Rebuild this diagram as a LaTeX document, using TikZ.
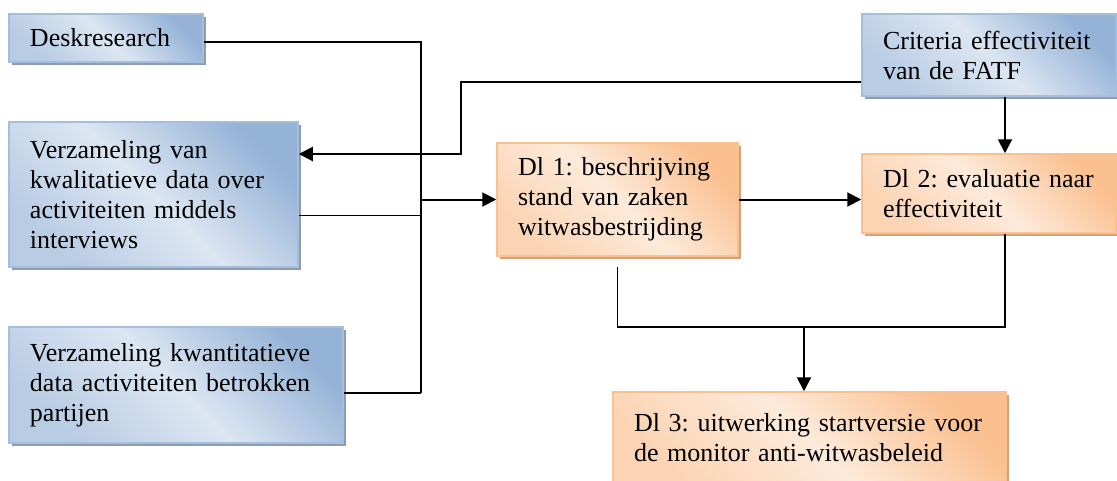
\documentclass[tikz,border=0pt]{standalone}
\usepackage{fontspec}
\setmainfont{Liberation Serif}
\usetikzlibrary{arrows.meta,shadows}
\definecolor{blauwdonker}{HTML}{95B3D7}
\definecolor{blauwmidden}{HTML}{B8CCE4}
\definecolor{blauwlicht}{HTML}{DCE6F2}
\definecolor{blauwrand}{HTML}{A6BEDE}
\definecolor{blauwschaduw}{HTML}{8E9CB0}
\definecolor{oranjedonker}{HTML}{FAC090}
\definecolor{oranjemidden}{HTML}{FBD4B4}
\definecolor{oranjelicht}{HTML}{FDEADA}
\definecolor{oranjerand}{HTML}{F9C190}
\definecolor{oranjeschaduw}{HTML}{D4A276}
\tikzset{font={\fontsize{26pt}{30pt}\selectfont\frenchspacing}}
\tikzset{
  blok/.style={draw, line width=1.5pt, align=left, inner xsep=21pt, inner ysep=2pt},
  blauw/.style={blok, draw=blauwrand, top color=blauwdonker, bottom color=blauwmidden,
    middle color=blauwlicht, shading angle=-45,
    general shadow={fill=blauwschaduw, shadow xshift=3pt, shadow yshift=-3pt}},
  oranje/.style={blok, draw=oranjerand, top color=oranjedonker, bottom color=oranjemidden,
    middle color=oranjelicht, shading angle=-45,
    general shadow={fill=oranjeschaduw, shadow xshift=3pt, shadow yshift=-3pt}},
  lijn/.style={line width=1.3pt},
  pijl/.style={line width=2pt, -{Triangle[length=14pt,width=14pt]}}
}

\begin{document}
\begin{tikzpicture}[x=1pt, y=-1pt]
      \useasboundingbox (0,0) rectangle (1117,480);
      %bronnen
      \node[blauw, text width=152pt, minimum height=48pt] (desk) at (106,38) {Deskresearch};
      \node[blauw, text width=247pt, minimum height=145pt] (kwal) at (153.5,194.5)
        {Verzameling van\\ kwalitatieve data over\\ activiteiten middels\\ interviews};
      \node[blauw, text width=292pt, minimum height=116pt] (kwant) at (176,385)
        {Verzameling kwantitatieve\\ data activiteiten betrokken\\ partijen};
      \node[blauw, text width=212pt, minimum height=82pt] (crit) at (989,55)
        {Criteria effectiviteit\\ van de FATF};
      %deelrapporten
      \node[oranje, text width=199pt, minimum height=113pt] (dl1) at (617.5,199.5)
        {Dl 1: beschrijving\\ stand van zaken\\ witwasbestrijding};
      \node[oranje, text width=212pt, minimum height=79pt] (dl2) at (989,193.5)
        {Dl 2: evaluatie naar\\ effectiviteit};
      \node[oranje, text width=351pt, minimum height=92pt] (dl3) at (809.5,438)
        {Dl 3: uitwerking startversie voor\\ de monitor anti-witwasbeleid};
      %verzamellijn
      \coordinate (bustop) at (421,42);
      \coordinate (busbot) at (421,393);
      \coordinate (kwalout) at ([yshift=-21pt]kwal.east);
      \draw[lijn] ([yshift=-4pt]desk.east) -- (bustop) -- (busbot);
      \draw[lijn] (kwalout) -- (kwalout -| bustop);
      \draw[lijn] ([yshift=-8pt]kwant.east) -| (busbot);
      \draw[pijl] (dl1.west -| bustop) -- (dl1.west);
      %criteria
      \coordinate (critout) at ([yshift=-27pt]crit.west);
      \coordinate (jog) at (461,154);
      \draw[pijl] (critout) -| (jog) -- (jog -| kwal.east);
      \coordinate (critdown) at ([xshift=16pt]crit.south);
      \draw[pijl] (critdown) -- (critdown |- dl2.north);
      \draw[pijl] (dl1.east) -- (dl1.east -| dl2.west);
      %naar deel 3
      \coordinate (dl1out) at ([yshift=-10pt]dl1.south);
      \coordinate (dl2out) at ([xshift=16pt]dl2.south);
      \coordinate (merge) at (804,327);
      \draw[lijn] (dl1out) |- (merge) -| (dl2out);
      \draw[pijl] (merge) -- (merge |- dl3.north);
\end{tikzpicture}
\end{document}
